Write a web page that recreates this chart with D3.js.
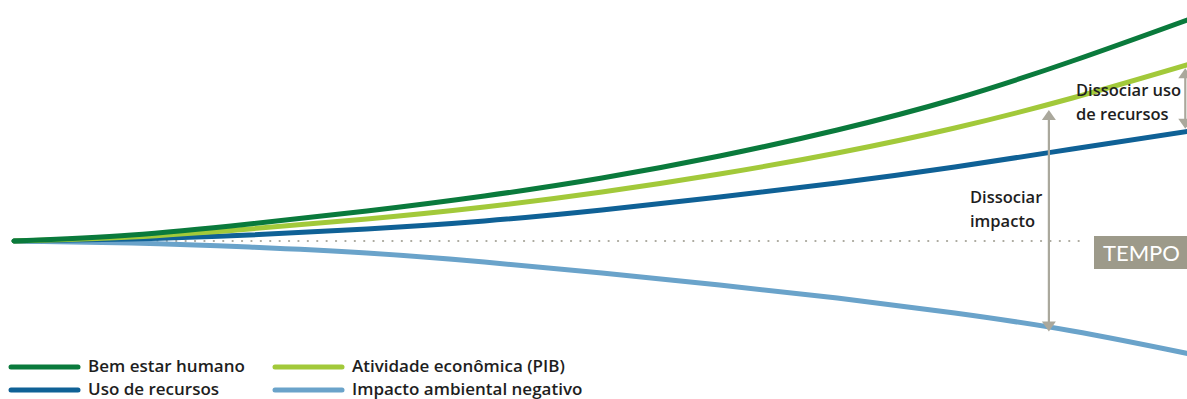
<!DOCTYPE html>
<html><head><meta charset="utf-8">
<script src="https://cdn.jsdelivr.net/npm/d3@7"></script>
<style>html,body{margin:0;padding:0;background:#fff;overflow:hidden}svg{display:block}</style>
</head><body>
<svg id="c" width="1187" height="399"></svg>
<script>
// time points (0..100)
const tempo = [0,10,20,30,40,50,60,70,80,90,100];
// values relative to the TEMPO baseline (positive = above)
const bemEstar   = [0, 6, 17, 30, 45, 63, 85, 111, 142, 180, 222];
const pib        = [0, 4, 12, 22, 34, 49, 67, 88, 113, 143, 177];
const usoRec     = [0, 2, 6, 12, 20, 31, 44, 58, 74, 92, 110];
const impacto    = [0, -2, -6, -12, -21, -32, -44, -57, -72, -90, -113];
const seriesNames = ["Bem estar humano","Atividade econômica (PIB)","Uso de recursos","Impacto ambiental negativo"];
const seriesColors = ["#0a7a3c","#a2c93a","#0f6196","#6aa3ca"];
const seriesData = [bemEstar, pib, usoRec, impacto];
const axisLabel = "TEMPO";
const annotImpacto = ["Dissociar","impacto"];
const annotUso = ["Dissociar uso","de recursos"];
const arrowImpactoT = 88.0;
const arrowUsoT = 99.6;

const svg = d3.select("#c");
const x = d3.scaleLinear().domain([0,100]).range([14,1190]);
const y = d3.scaleLinear().domain([0,222]).range([241,19]);
const fontF = "'Open Sans', Lato, sans-serif";
const grey = "#aaa89c";

// dotted baseline
svg.append("line").attr("x1",x(5)).attr("x2",1088).attr("y1",y(0)).attr("y2",y(0))
  .attr("stroke","#a9a79c").attr("stroke-width",2.2).attr("stroke-dasharray","0.1 9.3").attr("stroke-linecap","round");

// TEMPO box
svg.append("rect").attr("x",1094).attr("y",236).attr("width",95).attr("height",33).attr("fill","#9d9a8a");
svg.append("text").attr("x",1103).attr("y",261).text(axisLabel)
  .attr("fill","#fff").attr("font-family","Lato, sans-serif").attr("font-size",22);

// lines (draw light blue first, dark green last)
const line = d3.line().x((d,i)=>x(tempo[i])).y(d=>y(d)).curve(d3.curveNatural);
[3,2,1,0].forEach(k=>{
  svg.append("path").attr("d",line(seriesData[k])).attr("fill","none")
    .attr("stroke",seriesColors[k]).attr("stroke-width",5).attr("stroke-linecap","round");
});

// interpolate value at t
function valAt(arr,t){const i=Math.min(9,Math.floor(t/10));const f=(t-tempo[i])/10;return arr[i]+(arr[i+1]-arr[i])*f;}

// arrows
function arrow(t, v1, v2){
  const ax = x(t);
  const yTop = y(v1), yBot = y(v2);
  svg.append("line").attr("x1",ax).attr("x2",ax).attr("y1",yTop+8).attr("y2",yBot-8)
    .attr("stroke",grey).attr("stroke-width",2.2);
  svg.append("path").attr("d",`M${ax},${yTop} L${ax-7},${yTop+10} L${ax+7},${yTop+10} Z`).attr("fill",grey);
  svg.append("path").attr("d",`M${ax},${yBot} L${ax-7},${yBot-10} L${ax+7},${yBot-10} Z`).attr("fill",grey);
}
arrow(arrowImpactoT, valAt(pib,arrowImpactoT)-6, valAt(impacto,arrowImpactoT)-4);
arrow(arrowUsoT, valAt(pib,arrowUsoT)-3, valAt(usoRec,arrowUsoT)+3);

// annotation texts
function label(lines,x0,y0){
  lines.forEach((s,i)=>svg.append("text").attr("x",x0).attr("y",y0+i*24).text(s)
    .attr("font-family",fontF).attr("font-weight",600).attr("font-size",16.5).attr("fill","#1e1e1e"));
}
label(annotImpacto,970,203);
label(annotUso,1076,96);

// legend
const legPos = [[11,367],[275,367],[11,390],[275,390]];
seriesNames.forEach((n,k)=>{
  const [lx,ly]=legPos[k];
  svg.append("line").attr("x1",lx).attr("x2",lx+67).attr("y1",ly).attr("y2",ly)
    .attr("stroke",seriesColors[k]).attr("stroke-width",5).attr("stroke-linecap","round");
  svg.append("text").attr("x",lx+77).attr("y",ly+4.5).text(n)
    .attr("font-family",fontF).attr("font-weight",600).attr("font-size",17).attr("fill","#1e1e1e");
});
</script>
</body></html>
